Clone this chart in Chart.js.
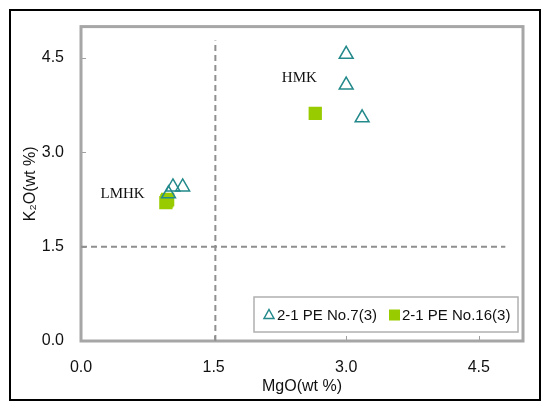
<!DOCTYPE html>
<html>
<head>
<meta charset="utf-8">
<script src="https://cdn.jsdelivr.net/npm/chart.js@4.4.0/dist/chart.umd.min.js"></script>
<style>
  body { margin: 0; background: #fff; }
  #wrap { width: 542px; height: 403px; }
</style>
</head>
<body>
<div id="wrap"><canvas id="mgoChart" width="542" height="403"></canvas></div>
<script>
// === Data ===
const no7X = [3.0, 3.0, 3.18, 1.04, 1.15, 0.99];
const no7Y = [4.56, 4.07, 3.55, 2.45, 2.45, 2.34];
const no16X = [2.65, 0.96, 0.98, 0.97];
const no16Y = [3.62, 2.2, 2.25, 2.23];

// dashed divider lines
const dividerX = [1.52, 1.52];
const dividerXY = [0, 4.78];
const dividerY = [1.5, 1.5];
const dividerYX = [0, 4.8];

// field labels
const fieldNames = ["HMK", "LMHK"];
const fieldX = [2.47, 0.47];
const fieldY = [4.18, 2.34];

const tickValues = [0, 1.5, 3.0, 4.5];
const seriesNames = ["2-1 PE No.7(3)", "2-1 PE No.16(3)"];

const teal = "#23898b";
const green = "#99cc00";
const dashGray = "#8f8f8f";

function toPoints(xs, ys) {
  return xs.map((x, i) => ({ x: x, y: ys[i] }));
}

// === Plugin: frame, inward ticks, field labels, legend, outer border ===
const decorPlugin = {
  id: "decor",
  beforeDatasetsDraw(chart) {
    const { ctx, chartArea: a, scales } = chart;
    ctx.save();
    // tick marks pointing inward
    ctx.strokeStyle = "#a0a0a0";
    ctx.lineWidth = 1;
    tickValues.forEach((v) => {
      const px = Math.round(scales.x.getPixelForValue(v)) + 0.5;
      ctx.beginPath();
      ctx.moveTo(px, a.bottom);
      ctx.lineTo(px, a.bottom - 5);
      ctx.stroke();
      const py = Math.round(scales.y.getPixelForValue(v)) + 0.5;
      ctx.beginPath();
      ctx.moveTo(a.left, py);
      ctx.lineTo(a.left + 5, py);
      ctx.stroke();
    });
    // plot frame
    ctx.strokeStyle = "#a6a6a6";
    ctx.lineWidth = 3;
    ctx.strokeRect(a.left, a.top, a.right - a.left, a.bottom - a.top);
    ctx.restore();
  },
  afterDraw(chart) {
    const { ctx, chartArea: a, scales } = chart;
    ctx.save();

    // HMK / LMHK labels
    ctx.font = "15px 'Liberation Serif', 'Times New Roman', serif";
    ctx.fillStyle = "#111";
    ctx.textAlign = "center";
    ctx.textBaseline = "middle";
    fieldNames.forEach((name, i) => {
      ctx.fillText(name, scales.x.getPixelForValue(fieldX[i]), scales.y.getPixelForValue(fieldY[i]));
    });

    // legend box in the lower right of the plot
    const boxW = 264, boxH = 35;
    const bx = a.right - 5 - boxW;
    const by = a.bottom - 9 - boxH;
    ctx.fillStyle = "#fff";
    ctx.fillRect(bx, by, boxW, boxH);
    ctx.strokeStyle = "#b0b0b0";
    ctx.lineWidth = 1.5;
    ctx.strokeRect(bx, by, boxW, boxH);

    const cy = by + boxH / 2;
    // triangle marker
    ctx.strokeStyle = teal;
    ctx.lineWidth = 1.5;
    ctx.beginPath();
    ctx.moveTo(bx + 15, cy - 5);
    ctx.lineTo(bx + 20, cy + 4);
    ctx.lineTo(bx + 10, cy + 4);
    ctx.closePath();
    ctx.stroke();
    // square marker
    ctx.fillStyle = green;
    ctx.fillRect(bx + 135, cy - 5, 11, 11);

    ctx.font = "15px 'Liberation Sans', Arial, sans-serif";
    ctx.fillStyle = "#111";
    ctx.textAlign = "left";
    ctx.fillText(seriesNames[0], bx + 23, cy + 1);
    ctx.fillText(seriesNames[1], bx + 148, cy + 1);

    // outer black border
    ctx.strokeStyle = "#000";
    ctx.lineWidth = 2;
    ctx.strokeRect(10, 10, 530, 390);
    ctx.restore();
  },
};

// === Chart ===
const ctx = document.getElementById("mgoChart").getContext("2d");

const axisFont = { family: "'Liberation Sans', Arial", size: 16 };

new Chart(ctx, {
  type: "scatter",
  data: {
    datasets: [
      {
        type: "line",
        data: toPoints(dividerX, dividerXY),
        borderColor: dashGray,
        borderWidth: 2,
        borderDash: [6, 4],
        pointRadius: 0,
        fill: false,
      },
      {
        type: "line",
        data: toPoints(dividerYX, dividerY),
        borderColor: dashGray,
        borderWidth: 2,
        borderDash: [6, 4],
        pointRadius: 0,
        fill: false,
      },
      {
        label: seriesNames[0],
        data: toPoints(no7X, no7Y),
        pointStyle: "triangle",
        pointRadius: 8,
        borderColor: teal,
        borderWidth: 1.5,
        backgroundColor: "rgba(0,0,0,0)",
      },
      {
        label: seriesNames[1],
        data: toPoints(no16X, no16Y),
        pointStyle: "rect",
        pointRadius: 9.4,
        borderWidth: 0,
        backgroundColor: green,
      },
    ],
  },
  options: {
    responsive: false,
    animation: false,
    layout: { padding: { top: 24, right: 19, left: 0, bottom: 0 } },
    plugins: {
      legend: { display: false },
      tooltip: { enabled: false },
    },
    scales: {
      x: {
        type: "linear",
        min: 0,
        max: 5,
        grid: { display: false, drawTicks: false },
        border: { display: false },
        afterBuildTicks: (s) => { s.ticks = tickValues.map((v) => ({ value: v })); },
        afterFit: (s) => { s.height = 62; },
        ticks: {
          padding: 17,
          color: "#111",
          font: axisFont,
          callback: (v) => Number(v).toFixed(1),
        },
        title: {
          display: true,
          text: "MgO(wt %)",
          color: "#111",
          font: axisFont,
          padding: { top: 0, bottom: 7 },
        },
      },
      y: {
        type: "linear",
        min: 0,
        max: 5,
        grid: { display: false, drawTicks: false },
        border: { display: false },
        afterBuildTicks: (s) => { s.ticks = tickValues.map((v) => ({ value: v })); },
        afterFit: (s) => { s.width = 81; },
        ticks: {
          padding: 17,
          color: "#111",
          font: axisFont,
          callback: (v) => Number(v).toFixed(1),
        },
        title: {
          display: true,
          text: "K₂O(wt %)",
          color: "#111",
          font: axisFont,
          padding: { top: 21, bottom: 0 },
        },
      },
    },
  },
  plugins: [decorPlugin],
});
</script>
</body>
</html>
